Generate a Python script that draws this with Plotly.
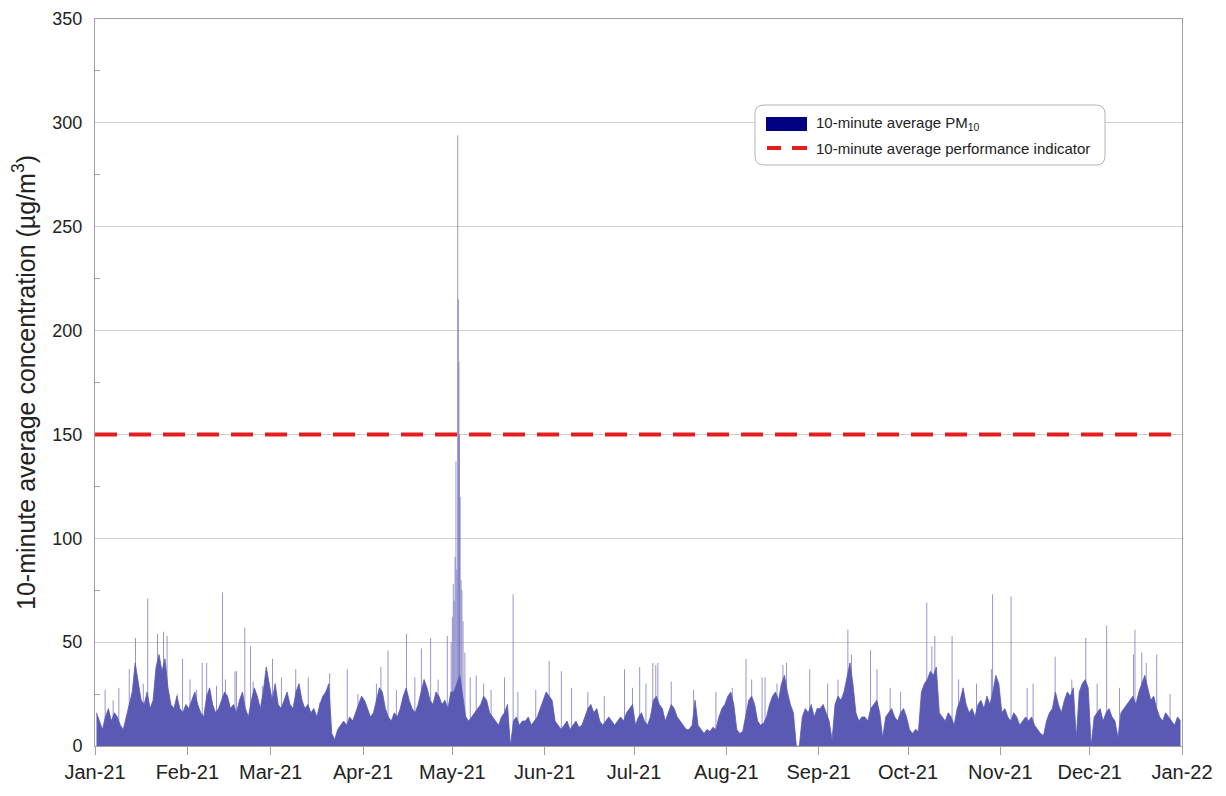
import numpy as np
import pandas as pd
import plotly.graph_objects as go

# ---------------- data ----------------
year_start = "2021-01-01"
year_end = "2022-01-01"

# daily "body" level of the 10-minute PM10 record (µg/m³), one value per day
jan_vals = [16, 12, 8, 14, 18, 12, 16, 14, 10, 8, 14, 20, 26, 40, 30, 22, 20, 26, 18, 22,
            38, 44, 36, 42, 28, 20, 18, 24, 18, 16, 20]
feb_vals = [18, 22, 26, 20, 16, 14, 24, 28, 20, 16, 18, 22, 26, 24, 18, 20, 16, 22, 26, 18,
            14, 22, 28, 24, 18, 26, 38, 30]
mar_vals = [22, 30, 20, 18, 22, 26, 20, 18, 26, 30, 22, 18, 20, 16, 18, 14, 20, 24, 26, 30,
            6, 3, 8, 10, 12, 10, 14, 12, 16, 20, 24]
apr_vals = [22, 18, 14, 16, 22, 28, 26, 18, 14, 12, 16, 14, 18, 24, 28, 22, 18, 16, 20, 26,
            32, 28, 22, 20, 26, 24, 20, 22, 18, 26]
may_vals = [26, 30, 34, 24, 14, 12, 14, 16, 18, 20, 24, 22, 16, 14, 12, 10, 14, 16, 20, 0,
            12, 14, 10, 12, 12, 14, 10, 12, 14, 18, 22]
jun_vals = [26, 24, 22, 12, 10, 8, 10, 12, 8, 10, 12, 9, 10, 14, 18, 20, 16, 18, 12, 10,
            12, 14, 12, 10, 12, 14, 12, 16, 18, 20]
jul_vals = [10, 14, 16, 12, 10, 14, 22, 24, 20, 18, 12, 16, 20, 18, 14, 12, 10, 8, 8, 10,
            22, 10, 8, 6, 8, 7, 9, 8, 14, 18, 20]
aug_vals = [24, 26, 20, 8, 6, 7, 14, 22, 24, 20, 12, 10, 11, 14, 20, 24, 26, 22, 30, 34,
            26, 20, 16, 0, 0, 14, 18, 16, 20, 14, 18]
sep_vals = [18, 20, 16, 12, 3, 20, 24, 22, 26, 34, 40, 30, 16, 12, 14, 14, 12, 18, 20, 22,
            16, 4, 14, 16, 18, 14, 12, 16, 18, 14]
oct_vals = [8, 6, 8, 7, 26, 30, 32, 36, 34, 38, 16, 14, 12, 16, 14, 10, 18, 22, 28, 20,
            16, 18, 14, 20, 22, 18, 24, 20, 26, 34, 30]
nov_vals = [16, 18, 14, 12, 16, 14, 10, 12, 14, 12, 14, 10, 8, 6, 5, 12, 16, 18, 26, 20,
            16, 22, 26, 24, 28, 4, 26, 30, 32, 28]
dec_vals = [0, 14, 16, 18, 12, 16, 18, 14, 12, 4, 16, 18, 20, 22, 24, 20, 26, 30, 34, 28,
            22, 24, 18, 14, 12, 16, 14, 12, 10, 14, 12]

# short 10-minute peaks: time (days after 1 Jan 2021) and value (µg/m³)
spike_days = [3.4, 6.1, 8.0, 11.5, 13.6, 16.2, 17.7, 21.0, 23.0, 24.2, 27.6, 29.4,
              31.9, 34.1, 36.0, 37.5, 40.8, 42.8, 43.8, 47.0, 47.5, 50.3, 52.2, 53.1, 56.2,
              59.6, 62.6, 67.4, 71.6, 75.5, 78.8, 84.7, 88.3,
              94.5, 96.0, 98.4, 101.2, 104.6, 107.4, 109.6, 112.7, 115.2, 118.3,
              119.6, 120.0, 120.3, 120.6, 120.9, 121.2, 121.5, 121.8, 122.0, 122.2, 122.4,
              122.6, 122.9, 123.2, 123.6, 124.2,
              126.0, 128.0, 130.5, 133.0, 137.5, 140.4, 142.0,
              148.0, 152.5, 156.6, 160.0, 165.5, 171.0, 177.8,
              180.5, 182.9, 185.0, 187.3, 188.3, 189.0, 193.5, 201.0, 208.5,
              214.0, 218.6, 220.5, 224.0, 225.0, 229.0, 231.0, 232.2, 240.0,
              246.0, 249.5, 252.8, 254.0, 260.4, 262.6, 267.0, 270.5,
              279.3, 281.0, 282.0, 287.8, 290.0, 296.0, 301.0, 301.4,
              307.6, 313.0, 315.0, 322.4, 328.0, 332.7,
              336.5, 339.7, 344.0, 348.7, 349.2, 351.5, 353.0, 356.5, 361.0]
spike_vals = [27, 22, 28, 37, 52, 30, 71, 54, 55, 53, 25, 42,
              32, 27, 40, 40, 29, 74, 32, 36, 36, 57, 48, 31, 29,
              42, 33, 37, 33, 21, 35, 37, 25,
              30, 38, 46, 27, 54, 33, 47, 52, 32, 53,
              50, 62, 78, 70, 91, 137, 85, 294, 215, 185, 150,
              120, 80, 75, 60, 45,
              33, 34, 30, 27, 33, 73, 26,
              27, 41, 36, 28, 26, 24, 37,
              28, 38, 30, 40, 39, 40, 31, 27, 26,
              28, 42, 32, 33, 33, 30, 39, 40, 37,
              30, 32, 56, 44, 46, 37, 28, 26,
              69, 48, 53, 53, 32, 30, 37, 73,
              72, 28, 30, 43, 32, 52,
              30, 58, 28, 44, 56, 45, 40, 44, 25]

indicator_level = 150
month_ticks = pd.date_range(year_start, year_end, freq="MS")

# ---------------- build ----------------
body_vals = (jan_vals + feb_vals + mar_vals + apr_vals + may_vals + jun_vals +
             jul_vals + aug_vals + sep_vals + oct_vals + nov_vals + dec_vals)
base = pd.Timestamp(year_start)
body_x = base + pd.to_timedelta(np.arange(len(body_vals)) + 0.5, unit="D")

sx, sy = [], []
for d, v in zip(spike_days, spike_vals):
    t = base + pd.to_timedelta(d, unit="D")
    sx += [t, t, None]
    sy += [0, v, None]

fig = go.Figure()
fig.add_trace(go.Scatter(x=sx, y=sy, mode="lines",
                         line=dict(color="rgba(115,115,190,0.75)", width=1),
                         showlegend=False, hoverinfo="skip"))
fig.add_trace(go.Scatter(x=body_x, y=body_vals, mode="lines", fill="tozeroy",
                         line=dict(color="#5a5ab4", width=0.8),
                         fillcolor="#5a5ab4", name="10-minute average PM10",
                         showlegend=False))
fig.add_trace(go.Scatter(x=[pd.Timestamp(year_start), pd.Timestamp(year_end)],
                         y=[indicator_level, indicator_level], mode="lines",
                         line=dict(color="#e41e1e", width=4, dash="22px,12px"),
                         name="10-minute average performance indicator",
                         showlegend=False))

# ---------------- layout ----------------
# page has an 8 px body margin; figure sized so that it fits the 1226x796 window
OFF = 8
W, H = 1210, 780
L, R, T, B = 95 - OFF, 36, 19 - OFF, 42
pw, ph = W - L - R, H - T - B


def px(x):  # page pixel -> paper x
    return (x - OFF - L) / pw


def py(y):  # page pixel -> paper y
    return (H - B - (y - OFF)) / ph


# rounded legend frame
x0, x1, y0, y1 = px(755), px(1105), py(165), py(105)
rx, ry = 9 / pw, 9 / ph
path = (f"M {x0+rx},{y0} L {x1-rx},{y0} Q {x1},{y0} {x1},{y0+ry} "
        f"L {x1},{y1-ry} Q {x1},{y1} {x1-rx},{y1} L {x0+rx},{y1} "
        f"Q {x0},{y1} {x0},{y1-ry} L {x0},{y0+ry} Q {x0},{y0} {x0+rx},{y0} Z")

shapes = [
    dict(type="path", xref="paper", yref="paper", path=path,
         line=dict(color="#b4b4b4", width=1), fillcolor="white", layer="above"),
    dict(type="rect", xref="paper", yref="paper", x0=px(766), x1=px(807),
         y0=py(131), y1=py(117), fillcolor="#000080", line=dict(width=0), layer="above"),
    dict(type="line", xref="paper", yref="paper", x0=px(767), x1=px(781),
         y0=py(148), y1=py(148), line=dict(color="#e41e1e", width=4), layer="above"),
    dict(type="line", xref="paper", yref="paper", x0=px(792), x1=px(807),
         y0=py(148), y1=py(148), line=dict(color="#e41e1e", width=4), layer="above"),
]

annotations = [
    dict(xref="paper", yref="paper", x=px(814), y=py(124), xanchor="left", yanchor="middle",
         text="10-minute average PM<sub>10</sub>", showarrow=False,
         font=dict(size=15, color="#222")),
    dict(xref="paper", yref="paper", x=px(814), y=py(148), xanchor="left", yanchor="middle",
         text="10-minute average performance indicator", showarrow=False,
         font=dict(size=15, color="#222")),
]

fig.update_layout(
    width=W, height=H,
    margin=dict(l=L, r=R, t=T, b=B, autoexpand=False),
    paper_bgcolor="white", plot_bgcolor="white",
    font=dict(family="Liberation Sans, Arial, sans-serif", color="#222"),
    shapes=shapes, annotations=annotations,
    showlegend=False,
)
fig.update_xaxes(
    type="date", range=[year_start, year_end],
    tickvals=month_ticks, tickformat="%b-%y",
    ticks="outside", ticklen=8, tickcolor="#a0a0a0",
    showline=True, linecolor="#a0a0a0", linewidth=1, mirror=True,
    showgrid=False, zeroline=False, automargin=False,
    tickfont=dict(size=20, color="#222"),
)
fig.update_yaxes(
    range=[0, 350], dtick=50, tick0=0,
    showgrid=True, gridcolor="#cfcfcf", gridwidth=1,
    showline=True, linecolor="#a0a0a0", linewidth=1, mirror=True,
    zeroline=False, ticks="", ticklen=0, ticklabelstandoff=8, automargin=False,
    minor=dict(dtick=25, ticks="inside", ticklen=5, tickcolor="#a0a0a0", showgrid=False),
    tickfont=dict(size=18, color="#222"),
    title=dict(text="10-minute average concentration (µg/m<sup>3</sup>)",
               font=dict(size=25, color="#222"), standoff=12),
)

fig.write_html("out.html")
